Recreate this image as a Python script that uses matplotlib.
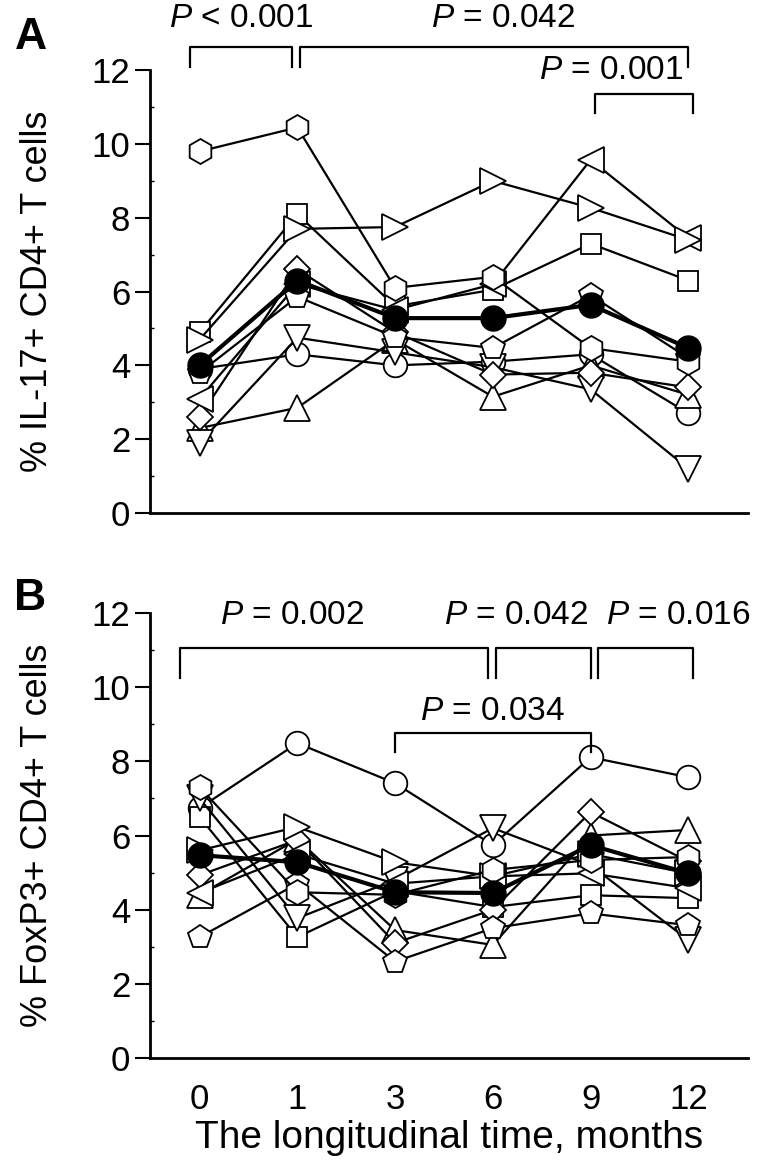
import numpy as np
import matplotlib
matplotlib.use("Agg")
from matplotlib import pyplot as plt

plt.rcParams['font.family'] = ['Liberation Sans', 'DejaVu Sans']
plt.rcParams['mathtext.fontset'] = 'custom'
plt.rcParams['mathtext.rm'] = 'Liberation Sans'
plt.rcParams['mathtext.it'] = 'Liberation Sans:italic'

# time points (categorical, equally spaced on the axis)
months = ['0', '1', '3', '6', '9', '12']

# panel A: % IL-17+ CD4+ T cells, one list per patient (marker shape)
il17 = {
    'o': [3.9, 4.3, 4.0, 4.1, 4.3, 2.7],
    's': [4.9, 8.1, 5.6, 6.05, 7.3, 6.3],
    '^': [2.3, 2.85, 4.7, 3.15, 4.0, 3.2],
    'v': [1.9, 4.75, 4.35, 3.95, 3.35, 1.2],
    'D': [2.6, 6.6, 4.9, 3.75, 3.8, 3.4],
    '<': [3.1, 6.2, 5.5, 6.2, 9.57, 7.45],
    '>': [4.7, 7.7, 7.75, 9.0, 8.27, 7.4],
    'p': [3.8, 5.86, 4.77, 4.47, 5.9, 4.2],
    'h': [9.8, 10.45, 6.1, 6.4, 4.47, 4.1],
}
il17_mean = [4.0, 6.3, 5.28, 5.28, 5.64, 4.47]

# panel B: % FoxP3+ CD4+ T cells
foxp3 = {
    'o': [6.74, 8.49, 7.41, 5.74, 8.11, 7.57],
    's': [6.5, 3.26, 4.5, 4.07, 4.39, 4.31],
    '^': [4.4, 5.9, 3.45, 3.05, 6.0, 6.15],
    'v': [7.0, 3.77, 4.8, 6.2, 5.2, 3.18],
    'D': [4.93, 5.88, 3.1, 4.0, 6.63, 5.3],
    '<': [4.45, 5.5, 4.7, 4.9, 4.98, 4.58],
    '>': [5.6, 6.23, 5.28, 4.9, 5.5, 4.98],
    'p': [3.26, 4.7, 2.6, 3.5, 3.9, 3.58],
    'h': [7.3, 4.47, 4.4, 5.07, 5.34, 5.42],
}
foxp3_mean = [5.47, 5.28, 4.47, 4.45, 5.74, 4.98]

# significance brackets: (x start, x end, text)
brackets_a = [(-0.1, 0.95, '$\\it{P}$ < 0.001'),
              (1.03, 5.0, '$\\it{P}$ = 0.042'),
              (4.05, 5.05, '$\\it{P}$ = 0.001')]
brackets_b = [(-0.2, 2.95, '$\\it{P}$ = 0.002'),
              (3.03, 4.0, '$\\it{P}$ = 0.042'),
              (4.08, 5.05, '$\\it{P}$ = 0.016'),
              (2.0, 4.0, '$\\it{P}$ = 0.034')]

msize = {'o': 17, 's': 15, '^': 19, 'v': 19, 'D': 13, '<': 19, '>': 19, 'p': 18, 'h': 18}


def draw_panel(ax, series, mean, ylabel):
    x = np.arange(len(months))
    for m, vals in series.items():
        ax.plot(x, vals, color='black', lw=1.6, marker=m, ms=msize[m],
                mfc='white', mec='black', mew=1.3, zorder=2)
    ax.plot(x, mean, color='black', lw=3, marker='o', ms=18,
            mfc='black', mec='black', zorder=5)
    ax.set_xlim(-0.51, 5.61)
    ax.set_ylim(0, 12)
    ax.set_yticks(range(0, 13, 2))
    ax.set_yticks(range(1, 12, 2), minor=True)
    ax.tick_params(axis='y', which='major', direction='out', length=11,
                   width=1.5, labelsize=25, pad=3)
    ax.tick_params(axis='y', which='minor', direction='in', length=3, width=1)
    ax.tick_params(axis='x', length=0, labelsize=25, pad=18)
    ax.set_xticks(x)
    ax.set_xticklabels(months)
    for s in ['top', 'right']:
        ax.spines[s].set_visible(False)
    for s in ['left', 'bottom']:
        ax.spines[s].set_linewidth(2)
    ax.set_ylabel(ylabel, fontsize=26, labelpad=26)


def bracket(ax, x0, x1, ytop, ybot, lw=1.6):
    ax.plot([x0, x0, x1, x1], [ybot, ytop, ytop, ybot], color='black',
            lw=lw, clip_on=False, zorder=6)


fig = plt.figure(figsize=(7.64, 11.71), dpi=100)
ax_a = fig.add_axes([0.196, 0.562, 0.783, 0.378])
ax_b = fig.add_axes([0.196, 0.0965, 0.783, 0.380])

draw_panel(ax_a, il17, il17_mean, '% IL-17+ CD4+ T cells')
draw_panel(ax_b, foxp3, foxp3_mean, '% FoxP3+ CD4+ T cells')
ax_a.set_xticklabels([])
ax_b.set_xlabel('The longitudinal time, months', fontsize=28, labelpad=3)

# panel A brackets
fs = 24
(x0, x1, t) = brackets_a[0]
bracket(ax_a, x0, x1, 12.63, 12.09)
ax_a.text((x0 + x1) / 2, 13.4, t, ha='center', va='center', fontsize=fs)
(x0, x1, t) = brackets_a[1]
bracket(ax_a, x0, x1, 12.63, 12.09)
ax_a.text(3.1, 13.4, t, ha='center', va='center', fontsize=fs)
(x0, x1, t) = brackets_a[2]
bracket(ax_a, x0, x1, 11.35, 10.84)
ax_a.text(4.95, 12.0, t, ha='right', va='center', fontsize=fs)

# panel B brackets
for (x0, x1, t), xt in zip(brackets_b[:3], [0.95, 3.24, 4.9]):
    bracket(ax_b, x0, x1, 11.05, 10.24)
    ax_b.text(xt, 11.94, t, ha='center', va='center', fontsize=fs)
(x0, x1, t) = brackets_b[3]
bracket(ax_b, x0, x1, 8.76, 8.25)
ax_b.text(3.0, 9.35, t, ha='center', va='center', fontsize=fs)

fig.text(0.04, 0.968, 'A', fontsize=32, fontweight='bold', ha='center', va='center')
fig.text(0.04, 0.489, 'B', fontsize=32, fontweight='bold', ha='center', va='center')

fig.savefig('out.png', dpi=100)
